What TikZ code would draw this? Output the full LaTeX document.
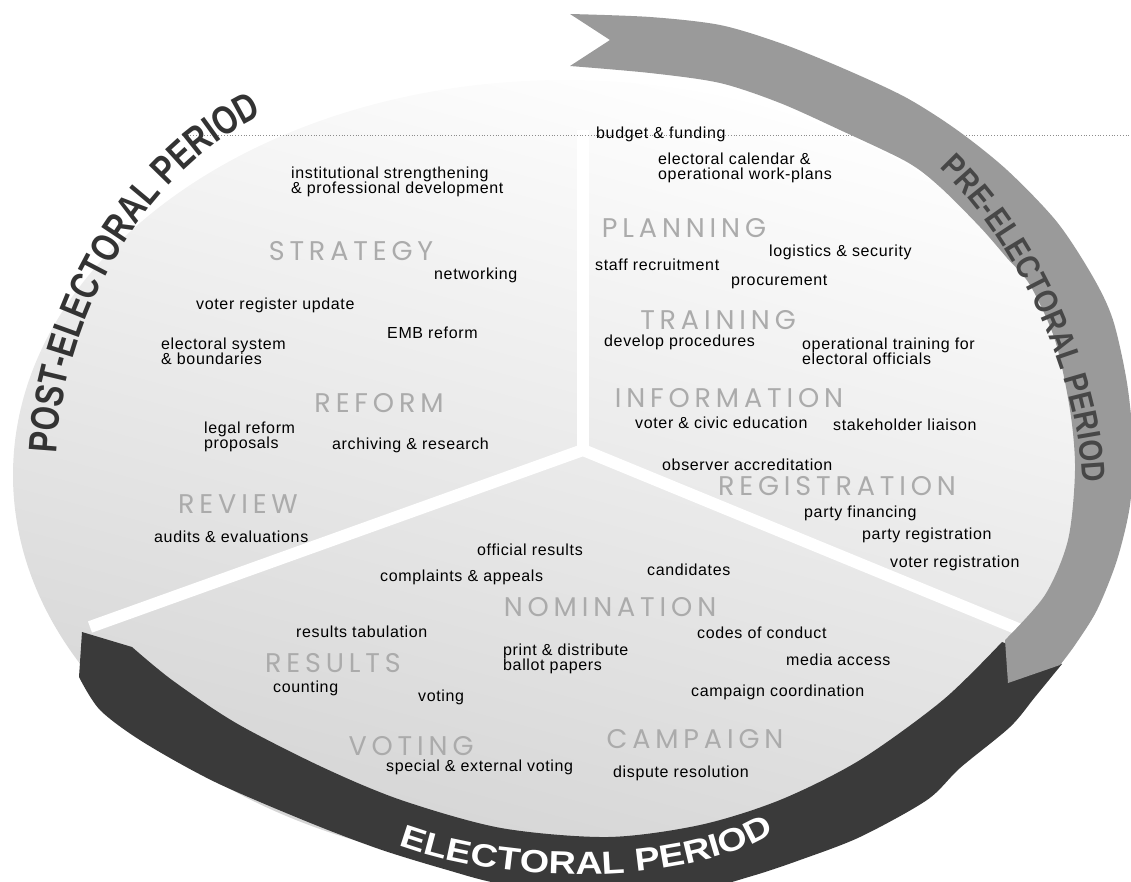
\documentclass[tikz,border=0pt]{standalone}
\usepackage{fontspec}
\setmainfont{Liberation Sans}
\newfontfamily\titlefont{Poppins}[LetterSpace=18]
\newfontfamily\postfont{Liberation Sans}[FakeStretch=0.78]
\newfontfamily\prefont{Liberation Sans}[FakeStretch=0.85]
\newfontfamily\elecfont{Liberation Sans}[FakeStretch=1.18]
\newfontfamily\labelfont{Liberation Sans}[LetterSpace=4]
\usetikzlibrary{decorations.text}
\definecolor{darkband}{HTML}{3A3A3A}
\definecolor{lightband}{HTML}{9A9A9A}
\definecolor{titlegray}{HTML}{ABABAB}
\tikzset{
  title/.style={font=\titlefont\fontsize{27}{27}\selectfont, text=titlegray, inner sep=0pt},
  lab/.style={font=\labelfont\fontsize{16}{15}\selectfont, anchor=west, align=left, inner sep=0pt, text=black},
  divider/.style={draw=white, line width=12pt},
  guide/.style={draw=black!45, dotted, line width=0.8pt},
  small/.style={transform canvas={scale=4}, x=0.25pt, y=-0.25pt}
}
\begin{document}
\begin{tikzpicture}[x=1pt,y=-1pt]
\useasboundingbox (0,0) rectangle (1131,882);
% background ellipse
\shade[top color=white, middle color=black!11, bottom color=black!17, shading angle=-15]
  (565,475) ellipse [x radius=552, y radius=395];
% dividers
\coordinate (hub) at (583,450);
\coordinate (divT) at (583,130);
\coordinate (divL) at (90,627);
\coordinate (divR) at (1045,640);
\draw[divider] (hub) -- (divT);
\draw[divider] (hub) -- (divL);
\draw[divider] (hub) -- (divR);
% dotted guide line
\coordinate (gA) at (182,135);
\coordinate (gB) at (1131,135);
\draw[guide] (gA) -- (gB);
% electoral (dark) band
\fill[darkband] (82,632) -- (132,647) -- plot[smooth] coordinates {(132,647) (172,680) (236,723) (322,767) (401,800) (501,828) (608,837) (700,825) (780,800) (860,760) (943,700) (1002,642)}
  -- (1062,664) -- plot[smooth] coordinates {(1062,664) (1035,697) (1010,727) (960,768) (927,800) (860,837) (800,860) (752,876) (690,892) (600,898) (501,884) (444,869) (379,849) (308,822) (215,782) (143,742) (100,710) (79,677)} -- cycle;
% pre-electoral (light) band
\fill[lightband] (570,14) -- (610,40) -- (570,66) -- plot[smooth] coordinates {(570,66) (650,73) (720,83) (780,103) (840,130) (907,162) (940,187) (980,227) (1007,258) (1030,285) (1055,340) (1070,410) (1075,470) (1068,540) (1045,595) (1005,640)}
  -- (1008,683) -- plot[smooth] coordinates {(1060,665) (1075,645) (1097,610) (1117,560) (1130,505) (1133,445) (1127,383) (1113,320) (1093,277) (1057,222) (1007,170) (957,130) (905,97) (840,67) (780,43) (720,25) (650,17) (570,14)} -- cycle;
% period texts (drawn at quarter scale)
\begin{scope}[small]
\path[decorate, decoration={text along path, text align=center,
  text={|\postfont\bfseries\fontsize{10}{11}\selectfont\color{black!80}|POST-ELECTORAL PERIOD}}]
  (56,464) .. controls (58,340) and (130,175) .. (272,110);
\path[decorate, decoration={text along path, text align=center,
  text={|\prefont\bfseries\fontsize{8.25}{9}\selectfont\color{black!72}|PRE-ELECTORAL PERIOD}}]
  (933,162) .. controls (1015,235) and (1082,380) .. (1083,492);
\path[decorate, decoration={text along path, text align=center,
  text={|\elecfont\bfseries\fontsize{8}{9}\selectfont\color{white}|ELECTORAL PERIOD}}]
  (398,845) .. controls (510,886) and (686,886) .. (775,832);
\end{scope}
% section titles
\node[title] (strategy) at (351,251) {STRATEGY};
\node[title] (planning) at (684,228) {PLANNING};
\node[title] (training) at (718,320) {TRAINING};
\node[title] (information) at (729,398) {INFORMATION};
\node[title] (registration) at (837,486) {REGISTRATION};
\node[title] (nomination) at (610,607) {NOMINATION};
\node[title] (results) at (333,663) {RESULTS};
\node[title] (review) at (238,504) {REVIEW};
\node[title] (reform) at (379,403) {REFORM};
\node[title] (voting) at (411,746) {VOTING};
\node[title] (campaign) at (695,739) {CAMPAIGN};
% labels
\node[lab] (inst) at (291,182) {institutional strengthening\\\& professional development};
\node[lab] (budget) at (596,134) {budget \& funding};
\node[lab] (calendar) at (658,168) {electoral calendar \&\\operational work-plans};
\node[lab] (networking) at (434,275) {networking};
\node[lab] (vru) at (196,305) {voter register update};
\node[lab] (emb) at (387,333) {EMB reform};
\node[lab] (elsys) at (161,351) {electoral system\\\& boundaries};
\node[lab] (legal) at (204,437) {legal reform\\proposals};
\node[lab] (archiving) at (332,445) {archiving \& research};
\node[lab] (audits) at (154,537) {audits \& evaluations};
\node[lab] (official) at (477,550) {official results};
\node[lab] (complaints) at (380,577) {complaints \& appeals};
\node[lab] (candidates) at (647,570) {candidates};
\node[lab] (tabulation) at (296,632) {results tabulation};
\node[lab] (ballot) at (503,659) {print \& distribute\\ballot papers};
\node[lab] (counting) at (273,688) {counting};
\node[lab] (votingl) at (418,697) {voting};
\node[lab] (codes) at (697,633) {codes of conduct};
\node[lab] (media) at (786,660) {media access};
\node[lab] (coord) at (691,692) {campaign coordination};
\node[lab] (special) at (386,767) {special \& external voting};
\node[lab] (dispute) at (613,773) {dispute resolution};
\node[lab] (observer) at (662,465) {observer accreditation};
\node[lab] (financing) at (804,513) {party financing};
\node[lab] (partyreg) at (862,535) {party registration};
\node[lab] (voterreg) at (890,563) {voter registration};
\node[lab] (civic) at (635,423) {voter \& civic education};
\node[lab] (liaison) at (833,425) {stakeholder liaison};
\node[lab] (procedures) at (604,342) {develop procedures};
\node[lab] (optrain) at (802,351) {operational training for\\electoral officials};
\node[lab] (staff) at (595,265) {staff recruitment};
\node[lab] (logistics) at (769,252) {logistics \& security};
\node[lab] (procurement) at (731,282) {procurement};
\end{tikzpicture}
\end{document}
